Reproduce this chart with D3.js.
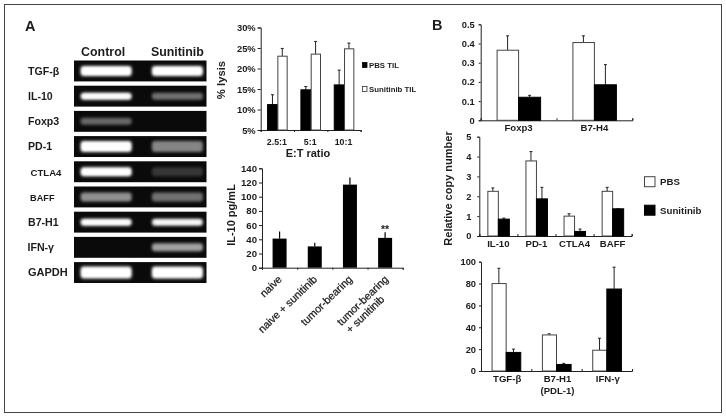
<!DOCTYPE html>
<html><head><meta charset="utf-8">
<script src="https://cdn.jsdelivr.net/npm/d3@7/dist/d3.min.js"></script>
<style>
html,body{margin:0;padding:0;background:#fff}
svg{display:block;filter:blur(.45px)}
text{font-family:"Liberation Sans",Arial,sans-serif;font-weight:bold;fill:#1c1c1c}
</style></head><body><div id="c"></div>
<script>
// Panel A: gel
const genes=["TGF-β","IL-10","Foxp3","PD-1","CTLA4","BAFF","B7-H1","IFN-γ","GAPDH"];
const lanes=["Control","Sunitinib"];
const controlBand=[1,.95,.38,1,1,.55,.95,0,1];
const sunitinibBand=[1,.42,0,.5,.18,.42,.85,.62,1];
const bandThick=[10,7,7,11,9,9,7,8,12];
// Panel A: lysis
const ratios=["2.5:1","5:1","10:1"];
const lysisPBS=[11.2,14.8,16];
const lysisPBSTop=[13.6,15.6,19.6];
const lysisSun=[23,23.5,24.8];
const lysisSunTop=[24.9,26.6,26.2];
const lysisTicks=[5,10,15,20,25,30];
// Panel A: IL-10
const il10Groups=["naive","naive + sunitinib","tumor-bearing","tumor-bearing|+ sunitinib"];
const il10Vals=[41,30,117,42];
const il10Top=[51,35,127,50];
const il10Ticks=[0,20,40,60,80,100,120,140];
// Panel B
const b1Cats=["Foxp3","B7-H4"];
const b1PBS=[.365,.405], b1PBSTop=[.44,.44], b1Sun=[.12,.185], b1SunTop=[.13,.29];
const b1Ticks=[0,.1,.2,.3,.4,.5];
const b2Cats=["IL-10","PD-1","CTLA4","BAFF"];
const b2PBS=[2.25,3.78,1,2.25], b2PBSTop=[2.42,4.25,1.12,2.45], b2Sun=[.85,1.87,.23,1.37], b2SunTop=[.9,2.45,.35,1.37];
const b2Ticks=[0,1,2,3,4,5];
const b3Cats=["TGF-β","B7-H1|(PDL-1)","IFN-γ"];
const b3PBS=[80,33,19], b3PBSTop=[94,34,30], b3Sun=[17,6,75], b3SunTop=[20,7,95];
const b3Ticks=[0,20,40,60,80,100];

const W=726,H=417;
const svg=d3.select("#c").append("svg").attr("width",W).attr("height",H);
const ink="#222";
svg.append("rect").attr("x",4.5).attr("y",4.5).attr("width",717).attr("height",408).attr("fill","none").attr("stroke","#444").attr("stroke-width",1);
const defs=svg.append("defs");
defs.append("filter").attr("id","gl").attr("x","-20%").attr("y","-80%").attr("width","140%").attr("height","260%")
  .append("feGaussianBlur").attr("stdDeviation",1.6);

function txt(x,y,s,size,anchor){return svg.append("text").attr("x",x).attr("y",y).attr("font-size",size).attr("text-anchor",anchor||"start").text(s);}
txt(25,31,"A",14.5);txt(432,30,"B",14.5);

// Gel
const rowY=d3.scaleBand().domain(genes).range([60.5,283]).paddingInner(.17).paddingOuter(0);
const laneX=d3.scaleBand().domain(lanes).range([74,206.5]);
const bandW=51;
const sizes={"CTLA4":9.6,"BAFF":9.2,"GAPDH":11};
const labelX={"CTLA4":30.5,"BAFF":30,"IFN-γ":27.5};
genes.forEach((g,i)=>{
  const y=rowY(g),h=rowY.bandwidth();
  svg.append("rect").attr("x",laneX.range()[0]).attr("y",y).attr("width",laneX.range()[1]-laneX.range()[0]).attr("height",h).attr("fill","#0a0a0a");
  [controlBand[i],sunitinibBand[i]].forEach((v,j)=>{
    if(!v)return;
    const cx=laneX(lanes[j])+laneX.bandwidth()/2+(j?4:-1);
    const t=bandThick[i];
    svg.append("rect").attr("x",cx-bandW/2).attr("y",y+h/2-t/2).attr("width",bandW).attr("height",t).attr("rx",3)
      .attr("fill","#fff").attr("opacity",v).attr("filter","url(#gl)");
    if(v>.8) svg.append("rect").attr("x",cx-bandW/2+2).attr("y",y+h/2-t/4).attr("width",bandW-4).attr("height",t/2).attr("rx",1.5)
      .attr("fill","#fff").attr("filter","url(#gl)");
  });
  txt(labelX[g]||28,y+h/2+3.8,g,sizes[g]||10.6);
});
lanes.forEach((l,j)=>txt(laneX(l)+laneX.bandwidth()/2+(j?4:-4),55.5,l,12.4,"middle"));

function chart(o){
  const y=d3.scaleLinear().domain(o.dom).range([o.y0,o.y1]);
  const n=o.cats.length;
  const x=d3.scaleBand().domain(o.cats).range([o.x0,o.x1]);
  const bound=d3.scaleLinear().domain([0,n]).range([o.x0,o.x1]);
  const g=svg.append("g");
  const st=sel=>{sel.selectAll("path,line").attr("stroke",ink).attr("stroke-width",1);sel.select(".domain").attr("fill","none");};
  const ya=d3.axisLeft(y).tickValues(o.ticks).tickSize(o.tl||3).tickPadding(o.tp||3).tickFormat(o.fmt);
  g.append("g").attr("transform",`translate(${o.x0},0)`).call(ya).call(st)
    .call(s=>s.selectAll("text").attr("font-size",o.fs).attr("font-family",null));
  const xa=d3.axisBottom(bound).tickValues(d3.range(0,n+1)).tickSize(o.xtick).tickFormat("");
  g.append("g").attr("transform",`translate(0,${o.y0})`).call(xa).call(st);
  (o.series||[]).forEach((s,k)=>{
    o.cats.forEach((c,i)=>{
      const cx=x(c)+x.bandwidth()/2;
      const bx=k===0?cx-o.bw:cx;
      const ex=bx+o.bw/2;
      g.append("line").attr("x1",ex).attr("x2",ex).attr("y1",y(s.v[i])).attr("y2",y(s.top[i])).attr("stroke",ink).attr("stroke-width",1);
      g.append("line").attr("x1",ex-1.5).attr("x2",ex+1.5).attr("y1",y(s.top[i])).attr("y2",y(s.top[i])).attr("stroke",ink).attr("stroke-width",1);
      g.append("rect").attr("x",bx+(s.fill==="#fff"?.5:0)).attr("y",y(s.v[i])).attr("width",o.bw-(s.fill==="#fff"?.5:0)).attr("height",o.y0-y(s.v[i]))
        .attr("fill",s.fill).attr("stroke",s.fill==="#fff"?"#444":"#000").attr("stroke-width",1);
    });
  });
  return {x,y};
}

// lysis
const a1=chart({cats:ratios,dom:[5,30],y0:130,y1:27.5,x0:260.7,x1:360.7,ticks:lysisTicks,fs:9.4,fmt:d=>d+"%",xtick:2,bw:9.8,tp:2,
  series:[{v:lysisPBS,top:lysisPBSTop,fill:"#000"},{v:lysisSun,top:lysisSunTop,fill:"#fff"}]});
ratios.forEach(r=>txt(a1.x(r)+a1.x.bandwidth()/2-.5,145,r,8.8,"middle"));
txt(308,157,"E:T ratio",11,"middle");
svg.append("text").attr("transform","translate(224.5,80) rotate(-90)").attr("text-anchor","middle").attr("font-size",11.3).text("% lysis");
const legA=d3.scaleBand().domain(["PBS TIL","Sunitinib TIL"]).range([52,102]);
legA.domain().forEach((l,i)=>{
  const cy=legA(l)+legA.bandwidth()/2+(i?-.5:.5);
  svg.append("rect").attr("x",362.5).attr("y",cy-2.5).attr("width",4.5).attr("height",5).attr("fill",i?"#fff":"#000").attr("stroke",i?"#333":"#000").attr("stroke-width",.8);
  txt(369,cy+3,l,7.8);
});

// IL-10
const a2=chart({cats:il10Groups,dom:[0,140],y0:267.7,y1:168.3,x0:262,x1:402.7,ticks:il10Ticks,fs:9.6,fmt:d=>d,xtick:2,bw:14,tp:2});
il10Groups.forEach((c,i)=>{
  const cx=a2.x(c)+a2.x.bandwidth()/2;
  const yv=a2.y;
  svg.append("line").attr("x1",cx).attr("x2",cx).attr("y1",yv(il10Vals[i])).attr("y2",yv(il10Top[i])).attr("stroke","#000").attr("stroke-width",1.2);
  svg.append("rect").attr("x",cx-7).attr("y",yv(il10Vals[i])).attr("width",14).attr("height",267.7-yv(il10Vals[i])).attr("fill","#000");
  c.split("|").forEach((p,k)=>{
    svg.append("text").attr("transform",`translate(${cx+3-4*k+(i===3?1:0)},${280+20*k}) rotate(-44)`).attr("text-anchor","end")
      .style("font-weight","normal").style("stroke","#1c1c1c").style("stroke-width",.25).attr("font-size",10.7).text(p);
  });
});
txt(a2.x(il10Groups[3])+a2.x.bandwidth()/2,232.5,"**",10.5,"middle");
svg.append("text").attr("transform","translate(234.5,215) rotate(-90)").attr("text-anchor","middle").attr("font-size",11).text("IL-10 pg/mL");

// Panel B
const pbs=(v,top)=>({v,top,fill:"#fff"}), sun=(v,top)=>({v,top,fill:"#000"});
const b1=chart({cats:b1Cats,dom:[0,.5],y0:120.3,y1:24.3,x0:480.7,x1:632.3,ticks:b1Ticks,fs:9.3,fmt:d=>d,xtick:-2,bw:22,tl:2,tp:4,
  series:[pbs(b1PBS,b1PBSTop),sun(b1Sun,b1SunTop)]});
b1Cats.forEach(c=>txt(b1.x(c)+b1.x.bandwidth()/2,130.7,c,9.6,"middle"));
const b2=chart({cats:b2Cats,dom:[0,5],y0:236,y1:136.7,x0:479.3,x1:631.7,ticks:b2Ticks,fs:9.3,fmt:d=>d,xtick:-2,bw:11,tl:2,tp:6,
  series:[pbs(b2PBS,b2PBSTop),sun(b2Sun,b2SunTop)]});
b2Cats.forEach(c=>txt(b2.x(c)+b2.x.bandwidth()/2,247.3,c,9.6,"middle"));
const b3=chart({cats:b3Cats,dom:[0,100],y0:371,y1:261.7,x0:481,x1:632,ticks:b3Ticks,fs:9.3,fmt:d=>d,xtick:-2,bw:14.6,tl:2,tp:3,
  series:[pbs(b3PBS,b3PBSTop),sun(b3Sun,b3SunTop)]});
b3Cats.forEach(c=>{
  c.split("|").forEach((p,k)=>txt(b3.x(c)+b3.x.bandwidth()/2+1,381.7+k*12.3,p,9.6,"middle"));
});
svg.append("text").attr("transform","translate(451.5,188.5) rotate(-90)").attr("text-anchor","middle").attr("font-size",11).text("Relative copy number");
const legB=d3.scaleBand().domain(["PBS","Sunitinib"]).range([167,225]);
legB.domain().forEach((l,i)=>{
  const cy=legB(l)+legB.bandwidth()/2-(i?.3:-.2);
  svg.append("rect").attr("x",644.5).attr("y",cy-5).attr("width",10.5).attr("height",10).attr("fill",i?"#000":"#fff").attr("stroke",i?"#000":"#444").attr("stroke-width",1);
  txt(660,cy+3.5,l,9.7);
});
</script></body></html>
